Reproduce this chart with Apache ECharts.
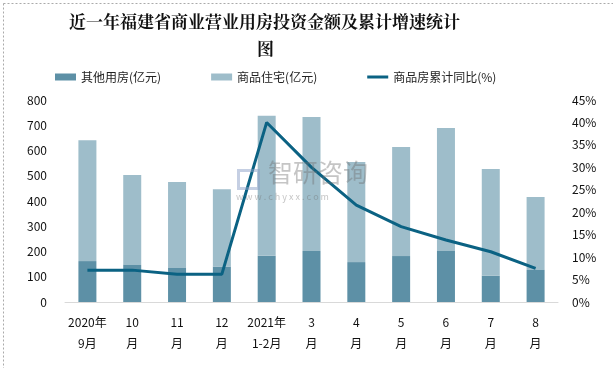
<!DOCTYPE html>
<html><head><meta charset="utf-8">
<script src="https://cdn.jsdelivr.net/npm/echarts@6/dist/echarts.min.js"></script>
<style>html,body{margin:0;padding:0;background:#fff}#c{width:613px;height:368px}</style>
</head><body><div id="c"></div>
<script>
const categories = ['2020年\n9月','10\n月','11\n月','12\n月','2021年\n1-2月','3\n月','4\n月','5\n月','6\n月','7\n月','8\n月'];
const otherUse = [162,147,135,140,183,202,158,182,202,104,127];
const residential = [479,356,340,307,555,531,396,432,487,423,289];
const yoyGrowth = [7.1,7.1,6.2,6.2,40.0,30.0,21.6,16.8,13.8,11.2,7.5];
const leftTicks = [0,800,100];
const rightTicks = [0,45,5];

const font = '"Noto Sans CJK SC", sans-serif';
const titleStyle = {fontFamily:'"Noto Serif CJK SC","Noto Sans CJK SC",serif',fontSize:17,fontWeight:'bold',color:'#111'};
const chart = echarts.init(document.getElementById('c'));
chart.setOption({
  animation:false,
  title:[
    {text:'近一年福建省商业营业用房投资金额及累计增速统计',left:64,top:8,textStyle:titleStyle},
    {text:'图',left:252,top:35,textStyle:titleStyle}
  ],
  graphic:[
    {type:'rect',left:1,top:1,shape:{width:610,height:365},style:{fill:'none',stroke:'#aaa',lineWidth:1,lineDash:[2,2]},silent:true},
    {type:'rect',left:236,top:168,z:100,shape:{width:20,height:18},style:{fill:'none',stroke:'rgba(140,160,200,0.5)',lineWidth:3},silent:true},
    {type:'text',left:268,top:160,z:100,style:{text:'智研咨询',fontSize:25,fill:'rgba(110,110,110,0.4)',fontFamily:font},silent:true},
    {type:'text',left:236,top:192,z:100,style:{text:'w w w . c h y x x . c o m',fontSize:9,fill:'rgba(110,110,110,0.4)',fontFamily:font},silent:true}
  ],
  legend:{top:66,left:50,itemGap:50,itemWidth:21,itemHeight:7,
    textStyle:{fontFamily:font,fontSize:12,color:'#222'},
    data:[{name:'其他用房(亿元)',icon:'rect'},{name:'商品住宅(亿元)',icon:'rect'},
      {name:'商品房累计同比(%)',icon:'path://M0,0 L42,0 L42,6 L0,6 Z'}]},
  grid:{left:65,right:55,top:100,bottom:66},
  xAxis:{type:'category',data:categories,
    axisLine:{lineStyle:{color:'#d9d9d9'}},axisTick:{show:false},
    axisLabel:{fontFamily:font,fontSize:12,color:'#111',lineHeight:21,margin:10,interval:0}},
  yAxis:[
    {type:'value',min:leftTicks[0],max:leftTicks[1],interval:leftTicks[2],splitLine:{show:false},
     axisLabel:{fontFamily:font,fontSize:12,color:'#111',margin:18}},
    {type:'value',min:rightTicks[0],max:rightTicks[1],interval:rightTicks[2],splitLine:{show:false},
     axisLabel:{fontFamily:font,fontSize:12,color:'#111',margin:14,formatter:'{value}%'}}
  ],
  series:[
    {name:'其他用房(亿元)',type:'bar',stack:'a',data:otherUse,barWidth:18,itemStyle:{color:'#5d90a6'}},
    {name:'商品住宅(亿元)',type:'bar',stack:'a',data:residential,barWidth:18,itemStyle:{color:'#9ebdca'}},
    {name:'商品房累计同比(%)',type:'line',yAxisIndex:1,data:yoyGrowth,symbol:'none',
     lineStyle:{color:'#0b6283',width:3},itemStyle:{color:'#0b6283'}}
  ]
});
</script></body></html>
